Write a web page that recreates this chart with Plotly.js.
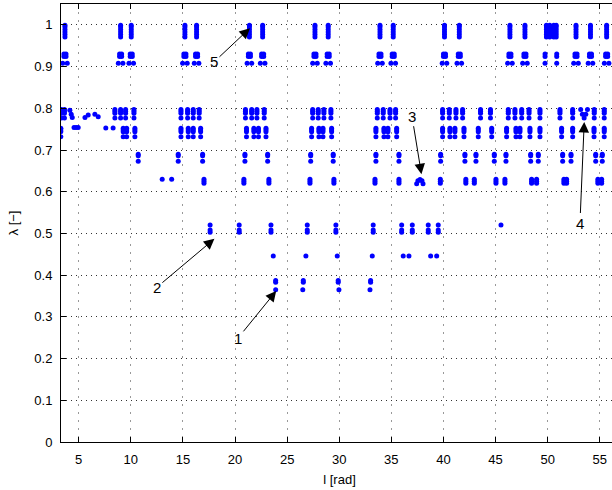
<!DOCTYPE html>
<html><head><meta charset="utf-8">
<script src="https://cdn.plot.ly/plotly-3.0.1.min.js"></script>
<style>html,body{margin:0;padding:0;overflow:hidden;background:#fff}</style>
</head><body><div id="chart"></div>
<script>
// Row 1: vertical bars near lambda = 1
const topBarX = [3.68, 9.02, 10.04, 15.19, 16.31, 21.38, 22.65, 27.67, 28.94, 33.91, 35.18, 40.10, 41.52, 46.38, 47.82, 49.88, 50.20, 50.59, 50.82, 52.72, 54.11, 55.66];
const topBarY = [0.971, 0.977, 0.983, 0.989, 0.995, 0.999];
// Row 2: blobs near 0.93
const blobX = [3.58, 3.78, 8.92, 9.12, 9.94, 10.14, 15.09, 15.29, 16.21, 16.41, 21.28, 21.48, 22.55, 22.75, 27.57, 27.77, 28.84, 29.04, 33.81, 34.01, 35.08, 35.28, 40.00, 40.20, 41.42, 41.62, 46.28, 46.48, 47.72, 47.92, 49.75, 50.87, 52.62, 52.82, 54.01, 54.21, 55.56, 55.76];
const blobY = [0.924, 0.930];
// Row 3: dot pairs near 0.908
const dotX = [3.46, 3.90, 8.80, 9.24, 9.82, 10.26, 14.97, 15.41, 16.09, 16.53, 21.16, 21.60, 22.43, 22.87, 27.45, 27.89, 28.72, 29.16, 33.69, 34.13, 34.96, 35.40, 39.88, 40.32, 41.30, 41.74, 46.16, 46.60, 47.60, 48.04, 49.75, 50.87, 52.50, 52.94, 53.89, 54.33, 55.44, 55.88];
const dotY = [0.908];
// Row 4: marks near 0.79
const r79X = [3.34, 3.63, 8.47, 9.02, 9.50, 10.30, 14.81, 15.45, 15.99, 16.56, 21.0, 21.6, 22.1, 22.8, 27.45, 27.98, 28.53, 29.20, 33.65, 34.22, 34.87, 35.41, 39.92, 40.56, 41.20, 41.84, 43.56, 44.51, 46.22, 46.86, 47.51, 48.21, 49.26, 51.18, 52.40, 54.47, 55.43];
const r79Y = [0.788, 0.793, 0.797, 0.777];
// Row 5: marks near 0.75
const r75X = [3.29, 9.27, 9.60, 10.39, 14.81, 15.51, 15.99, 16.70, 21.1, 21.81, 22.25, 22.97, 27.35, 28.05, 28.44, 29.27, 33.52, 34.29, 34.67, 35.51, 39.92, 40.62, 41.10, 41.97, 43.34, 44.63, 46.06, 46.96, 47.34, 48.30, 49.26, 51.34, 52.40, 54.45, 55.43];
const r75Y = [0.744, 0.748, 0.752, 0.732];
// Row 6: marks near 0.69
const r69X = [10.71, 14.55, 16.89, 20.95, 23.13, 27.26, 29.42, 33.52, 35.73, 39.73, 42.06, 43.12, 44.88, 46.00, 48.37, 49.10, 51.44, 52.24, 54.61, 55.24];
const r69Y = [0.686, 0.690, 0.673];
// Row 7: marks near 0.63
const r63X = [17.02, 20.85, 23.25, 27.19, 29.49, 33.43, 35.73, 39.70, 42.15, 42.96, 45.04, 45.90, 48.46, 48.94, 51.56, 51.82, 54.82, 55.18];
const r63Y = [0.620, 0.625, 0.630];
// Row 8: marks near 0.52 / 0.505
const r52X = [17.61, 20.40, 23.45, 26.93, 29.68, 33.26, 35.99, 37.01, 38.54, 39.50];
const r52Y = [0.520, 0.503, 0.508];
// Row 9: dots near 0.446
const r45X = [23.67, 26.80, 29.81, 33.17, 36.14, 36.69, 38.77, 39.35];
const r45Y = [0.446];
// Row 10: marks near 0.385 and 0.365
const r38X = [23.90, 26.55, 29.90, 33.01];
const r38Y = [0.383, 0.387];
const r36X = [23.90, 26.50, 29.97, 32.95];
const r36Y = [0.365];
// Isolated points
const extraX = [4.15, 4.28, 4.38, 5.60, 5.91, 6.55, 6.87, 53.17, 53.33, 53.50, 53.66, 53.82, 4.55, 4.75, 4.95, 7.60, 8.30, 13.01, 13.92, 37.43, 37.55, 37.75, 37.94, 38.04, 45.52];
const extraY = [0.795, 0.786, 0.778, 0.778, 0.784, 0.786, 0.780, 0.797, 0.786, 0.777, 0.786, 0.797, 0.754, 0.754, 0.754, 0.753, 0.753, 0.630, 0.630, 0.619, 0.626, 0.629, 0.626, 0.619, 0.520];

const xTicks = [5, 10, 15, 20, 25, 30, 35, 40, 45, 50, 55];
const yTicks = [0, 0.1, 0.2, 0.3, 0.4, 0.5, 0.6, 0.7, 0.8, 0.9, 1];
const yTickText = ['0', '0.1', '0.2', '0.3', '0.4', '0.5', '0.6', '0.7', '0.8', '0.9', '1'];

const rows = [[topBarX, topBarY], [blobX, blobY], [dotX, dotY], [r79X, r79Y], [r75X, r75Y], [r69X, r69Y], [r63X, r63Y], [r52X, r52Y], [r45X, r45Y], [r38X, r38Y], [r36X, r36Y]];
const X = [], Y = [];
rows.forEach(([xs, ys]) => xs.forEach(x => ys.forEach(y => { X.push(x); Y.push(y); })));
extraX.forEach((x, i) => { X.push(x); Y.push(extraY[i]); });

const font = {family: 'Liberation Sans, Arial, Helvetica, sans-serif', size: 13, color: '#000'};
function ann(text, tx, ty, px, py) {
  return {text: text, x: px, y: py, ax: tx, ay: ty, xref: 'x', yref: 'y', axref: 'x', ayref: 'y',
    showarrow: true, arrowhead: 2, arrowsize: 2.1, arrowwidth: 1, arrowcolor: '#000',
    font: {family: font.family, size: 15, color: '#000'}};
}
const layout = {
  width: 620, height: 490,
  margin: {l: 61, r: 2, t: 4, b: 48},
  paper_bgcolor: '#fff', plot_bgcolor: '#fff',
  showlegend: false,
  font: font,
  xaxis: {range: [3.3, 56.75], tickvals: xTicks, ticks: 'inside', ticklen: 5, tickcolor: '#000',
    showline: true, linecolor: '#000', linewidth: 1, mirror: 'allticks', zeroline: false,
    showgrid: true, gridcolor: '#999', griddash: '2px,6px', gridwidth: 1,
    ticklabelstandoff: 5,
    title: {text: 'l [rad]', font: font, standoff: 9}},
  yaxis: {range: [0, 1.05], tickvals: yTicks, ticktext: yTickText, ticks: 'inside', ticklen: 5, tickcolor: '#000',
    showline: true, linecolor: '#000', linewidth: 1, mirror: 'allticks', zeroline: false,
    showgrid: true, gridcolor: '#333', griddash: '1px,4px', gridwidth: 1,
    ticklabelstandoff: 5,
    title: {text: 'λ [−]', font: font, standoff: 12}},
  annotations: [
    ann('1', 20.28, 0.249, 23.95, 0.362),
    ann('2', 12.50, 0.371, 18.02, 0.487),
    ann('3', 36.98, 0.781, 37.89, 0.642),
    ann('4', 53.10, 0.525, 53.51, 0.767),
    ann('5', 17.98, 0.911, 21.43, 0.992)
  ]
};
Plotly.newPlot('chart', [{type: 'scatter', mode: 'markers', x: X, y: Y,
  marker: {color: '#0000ff', size: 5}, hoverinfo: 'none'}], layout, {staticPlot: true});
</script></body></html>
